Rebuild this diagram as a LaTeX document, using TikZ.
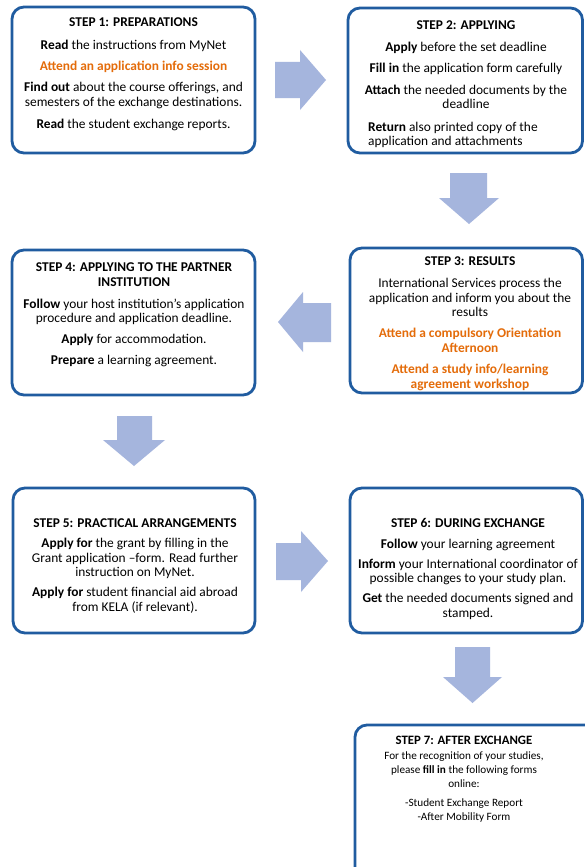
\documentclass[tikz,border=0pt]{standalone}
\usepackage{fontspec}
\setmainfont{Carlito}
\definecolor{boxblue}{RGB}{32,92,160}
\definecolor{arrowfill}{RGB}{165,181,221}
\definecolor{orng}{RGB}{228,108,10}
\newcommand{\hl}[1]{{\color{orng}\textbf{#1}}}
\begin{document}
\begin{tikzpicture}[x=1pt,y=-1pt,
  stepbox/.style={draw=boxblue, line width=2.8pt, rounded corners=12pt, fill=white, inner sep=0pt},
  blockarrow/.style={fill=arrowfill, draw=none},
  steptext/.style={inner sep=0pt, align=center, anchor=north, font=\fontsize{13.4}{14.6}\selectfont},
  smalltext/.style={inner sep=0pt, align=center, anchor=north, font=\fontsize{11.2}{13.8}\selectfont},
  lefttext/.style={inner sep=0pt, align=left, anchor=north west, font=\fontsize{13.4}{14.6}\selectfont},
]
\useasboundingbox (0,0) rectangle (584,867);
\fill[white] (0,0) rectangle (584,867);

% boxes
\node[stepbox, minimum width=243pt, minimum height=146pt] (b1) at (133.5,80) {};
\node[stepbox, minimum width=234.5pt, minimum height=145pt] (b2) at (465.25,80.5) {};
\node[stepbox, minimum width=232.5pt, minimum height=145pt] (b3) at (466.25,320.5) {};
\node[stepbox, minimum width=243pt, minimum height=145pt] (b4) at (133.5,322.5) {};
\node[stepbox, minimum width=242pt, minimum height=145pt] (b5) at (134,560.5) {};
\node[stepbox, minimum width=232.5pt, minimum height=145pt] (b6) at (466.25,560.5) {};
\node[stepbox, minimum width=245pt, minimum height=165pt] (b7) at (477.5,807.5) {};

% block arrows
\fill[blockarrow] (275,62) -- (300,62) -- (300,50) -- (326,80) -- (300,110) -- (300,98) -- (275,98) -- cycle;
\fill[blockarrow] (450,173) -- (487,173) -- (487,198) -- (499,198) -- (469,224) -- (439,198) -- (450,198) -- cycle;
\fill[blockarrow] (331,303) -- (303,303) -- (303,292) -- (278,322) -- (303,352) -- (303,342) -- (331,342) -- cycle;
\fill[blockarrow] (117,416) -- (152,416) -- (152,440) -- (165,440) -- (134,466) -- (103,440) -- (117,440) -- cycle;
\fill[blockarrow] (276,543) -- (301,543) -- (301,531) -- (328,561) -- (301,592) -- (301,580) -- (276,580) -- cycle;
\fill[blockarrow] (455,647) -- (490,647) -- (490,677) -- (502,677) -- (472.5,703) -- (443,677) -- (455,677) -- cycle;

% texts
\node[steptext] (t1) at (133.5,17.6) {\textbf{STEP 1: PREPARATIONS}\\[8pt]
\textbf{Read} the instructions from MyNet\\[6.5pt]
\hl{Attend an application info session}\\[7pt]
\textbf{Find out} about the course offerings, and\\
semesters of the exchange destinations.\\[7pt]
\textbf{Read} the student exchange reports.};

\node[steptext] (t2) at (466,20.6) {\textbf{STEP 2: APPLYING}\\[7.5pt]
\textbf{Apply} before the set deadline\\[6.5pt]
\textbf{Fill in} the application form carefully\\[7pt]
\textbf{Attach} the needed documents by the\\
deadline};
\node[lefttext] (t2b) at (368,121.5) {\textbf{Return} also printed copy of the\\
application and attachments};

\node[steptext] (t3) at (470,256.6) {\textbf{STEP 3: RESULTS}\\[7.5pt]
International Services process the\\
application and inform you about the\\
results\\[6.5pt]
\hl{Attend a compulsory Orientation}\\
\hl{Afternoon}\\[6.5pt]
\hl{Attend a study info/learning}\\
\hl{agreement workshop}};

\node[steptext] (t4) at (134,262.6) {\textbf{STEP 4: APPLYING TO THE PARTNER}\\
\textbf{INSTITUTION}\\[7.5pt]
\textbf{Follow} your host institution’s application\\
procedure and application deadline.\\[6.5pt]
\textbf{Apply} for accommodation.\\[5.5pt]
\textbf{Prepare} a learning agreement.};

\node[steptext] (t5) at (135,518.6) {\textbf{STEP 5: PRACTICAL ARRANGEMENTS}\\[5.5pt]
\textbf{Apply for} the grant by filling in the\\
Grant application –form. Read further\\
instruction on MyNet.\\[5.5pt]
\textbf{Apply for} student financial aid abroad\\
from KELA (if relevant).};

\node[steptext] (t6) at (468,518.6) {\textbf{STEP 6: DURING EXCHANGE}\\[5.5pt]
\textbf{Follow} your learning agreement\\[5.5pt]
\textbf{Inform} your International coordinator of\\
possible changes to your study plan.\\[5.5pt]
\textbf{Get} the needed documents signed and\\
stamped.};

\node[smalltext] (t7) at (464,735.8) {{\fontsize{12.8}{13.8}\selectfont\textbf{STEP 7: AFTER EXCHANGE}}\\[1.2pt]
For the recognition of your studies,\\
please \textbf{fill in} the following forms\\
online:\\[6pt]
-Student Exchange Report\\
-After Mobility Form};
\end{tikzpicture}
\end{document}
